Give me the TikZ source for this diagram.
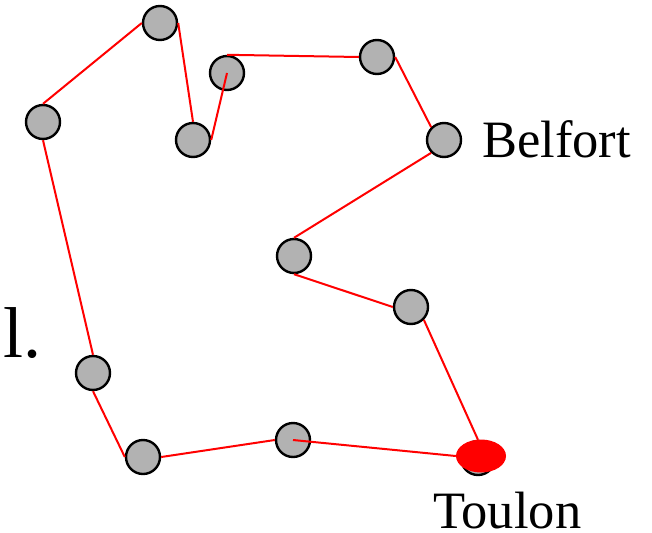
\documentclass[tikz,border=0pt]{standalone}
\usepackage{fontspec}
\setmainfont{Liberation Serif}
\usetikzlibrary{shapes.geometric}
\begin{document}
\begin{tikzpicture}[x=1pt,y=-1pt,
  town/.style={draw,circle,line width=2.4pt,fill=black!30,minimum size=34pt,inner sep=0pt},
  road/.style={draw,red,line width=2pt,-},
  townname/.style={inner sep=0pt,font=\fontsize{52.5}{52.5}\selectfont}]
\useasboundingbox (0,0) rectangle (652,532);

\node[town] (1) at (160,23) {};
\node[town] (2) at (43,122) {};
\node[town] (3) at (193,140) {};
\node[town] (4) at (227,73) {};
\node[town] (5) at (377,57) {};
\node[town] (6) at (444,140) {};
\node[town] (7) at (294,256) {};
\node[town] (8) at (411,307) {};
\node[town] (9) at (93,373) {};
\node[town] (10) at (143,457) {};
\node[town] (11) at (293,440) {};
\node[town] (12) at (478,458) {};
\node[ellipse,fill=red,minimum width=50pt,minimum height=33pt,inner sep=0pt] (toulon) at (481,456) {};

\node[townname,anchor=base west] (belfort) at (482,157) {Belfort};
\node[townname,anchor=base west] (toulonlabel) at (433,528) {Toulon};
\node[inner sep=0pt,anchor=base west,font=\fontsize{72}{72}\selectfont] (marker) at (3,357) {l.};

\path[road] (2.north) -- (1.west);
\path[road] (1.east) -- (3.north);
\path[road] (3.east) -- (4.center);
\path[road] (4.north) -- (5.west);
\path[road] (5.east) -- (6.north west);
\path[road] (6.south west) -- (7.north);
\path[road] (7.south) -- (8.west);
\path[road] (8.south east) -- (12.north);
\path[road] (11.center) -- (toulon.west);
\path[road] (10.east) -- (11.west);
\path[road] (9.south) -- (10.west);
\path[road] (2.south) -- (9.north);
\end{tikzpicture}
\end{document}
